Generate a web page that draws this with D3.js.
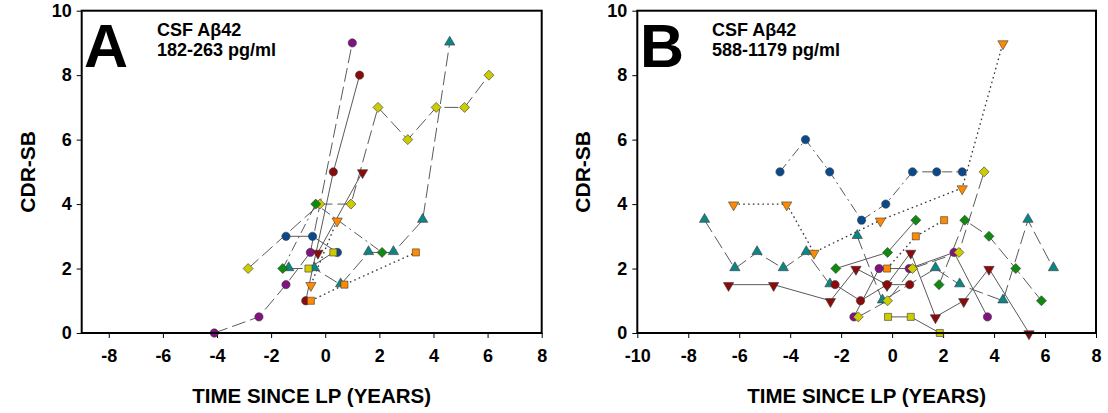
<!DOCTYPE html>
<html>
<head>
<meta charset="utf-8">
<script src="https://cdn.jsdelivr.net/npm/d3@7"></script>
<style>
  body { margin: 0; background: #fff; }
  text { font-family: Arial, "Liberation Sans", sans-serif; font-weight: bold; }
</style>
</head>
<body>
<div id="chart"></div>
<script>
// values: [years since LP, CDR-SB]
const xTicksA = [-8, -6, -4, -2, 0, 2, 4, 6, 8];
const xTicksB = [-10, -8, -6, -4, -2, 0, 2, 4, 6, 8];
const yTicks = [0, 2, 4, 6, 8, 10];

// panel A subjects
const aPurpleCircle = [[-4.1, 0], [-2.45, 0.5], [-1.45, 1.5], [-0.55, 2.5], [1.0, 9]];
const aRedCircle = [[-0.72, 1], [0.3, 5], [1.27, 8]];
const aYellowDiamond = [[-2.85, 2], [-0.2, 4], [0.95, 4], [1.95, 7], [3.05, 6], [4.1, 7], [5.15, 7], [6.05, 8]];
const aTealTriangle = [[-1.35, 2], [-0.4, 2], [0.57, 1.5], [1.6, 2.5], [2.52, 2.5], [3.6, 3.5], [4.6, 9]];
const aBlueCircle = [[-1.45, 3], [-0.47, 3], [0.45, 2.5]];
const aOrangeTriangle = [[-0.53, 1.5], [0.44, 3.5]];
const aOrangeSquare = [[-0.53, 1], [0.71, 1.5], [3.35, 2.5]];
const aRedTriangle = [[-0.27, 2.5], [1.38, 5]];
const aYellowSquare = [[-0.62, 2], [0.3, 2.5]];
const aGreenDiamond = [[-1.57, 2], [-0.35, 4], [2.1, 2.5]];

// panel B subjects
const bBlueCircle = [[-4.4, 5], [-3.4, 6], [-2.45, 5], [-1.2, 3.5], [-0.25, 4], [0.8, 5], [1.75, 5], [2.75, 5]];
const bOrangeTriangle = [[-6.22, 4], [-4.14, 4], [-3.07, 2.5], [-0.46, 3.5], [2.75, 4.5], [4.35, 9]];
const bOrangeSquare = [[-0.2, 2], [0.93, 3], [2.04, 3.5]];
const bTealTriangle1 = [[-7.36, 3.5], [-6.17, 2], [-5.3, 2.5], [-4.27, 2], [-3.37, 2.5], [-2.44, 1.5]];
const bTealTriangle2 = [[-1.37, 3], [-0.38, 1], [1.7, 2], [2.65, 1.5], [4.35, 1], [5.33, 3.5], [6.33, 2]];
const bRedTriangle = [[-6.42, 1.5], [-4.65, 1.5], [-2.42, 1], [-1.42, 2], [-0.2, 1.5], [0.73, 2.5], [1.7, 0.5], [2.81, 1], [3.8, 2], [5.37, 0]];
const bRedCircle = [[-2.24, 1.5], [-1.24, 1], [-0.2, 1.5], [0.69, 1.5]];
const bPurpleCircle = [[-1.5, 0.5], [-0.51, 2], [0.67, 2], [2.43, 2.5], [3.74, 0.5]];
const bYellowDiamond = [[-1.33, 0.5], [-0.18, 1], [0.8, 2], [2.62, 2.5], [3.61, 5]];
const bYellowSquare = [[-0.16, 0.5], [0.73, 0.5], [1.87, 0]];
const bGreenDiamond1 = [[-2.21, 2], [-0.18, 2.5], [0.93, 3.5]];
const bGreenDiamond2 = [[1.84, 1.5], [2.85, 3.5], [3.8, 3], [4.85, 2], [5.86, 1]];

const colors = {
  purple: '#82127f',
  red: '#8b0a0a',
  yellow: '#cccc00',
  teal: '#0b8585',
  blue: '#0a4a8c',
  orange: '#ff8a00',
  green: '#0f8a0f',
};

const dashes = {
  solid: null,
  long: '14,5',
  dashDot: '10,4,2,4',
  dot: '1.6,3.2',
};

// series styling kept apart from the values
const seriesA = [
  { data: aPurpleCircle, color: 'purple', shape: 'circle', dash: 'long' },
  { data: aRedCircle, color: 'red', shape: 'circle', dash: 'solid' },
  { data: aYellowDiamond, color: 'yellow', shape: 'diamond', dash: 'long' },
  { data: aTealTriangle, color: 'teal', shape: 'up', dash: 'long' },
  { data: aBlueCircle, color: 'blue', shape: 'circle', dash: 'solid' },
  { data: aOrangeTriangle, color: 'orange', shape: 'down', dash: 'dot' },
  { data: aOrangeSquare, color: 'orange', shape: 'square', dash: 'dot' },
  { data: aRedTriangle, color: 'red', shape: 'down', dash: 'solid' },
  { data: aYellowSquare, color: 'yellow', shape: 'square', dash: 'solid' },
  { data: aGreenDiamond, color: 'green', shape: 'diamond', dash: 'dashDot' },
];

const seriesB = [
  { data: bBlueCircle, color: 'blue', shape: 'circle', dash: 'dashDot' },
  { data: bOrangeTriangle, color: 'orange', shape: 'down', dash: 'dot' },
  { data: bOrangeSquare, color: 'orange', shape: 'square', dash: 'dot' },
  { data: bTealTriangle1, color: 'teal', shape: 'up', dash: 'long' },
  { data: bTealTriangle2, color: 'teal', shape: 'up', dash: 'long' },
  { data: bRedTriangle, color: 'red', shape: 'down', dash: 'solid' },
  { data: bRedCircle, color: 'red', shape: 'circle', dash: 'solid' },
  { data: bPurpleCircle, color: 'purple', shape: 'circle', dash: 'solid' },
  { data: bYellowDiamond, color: 'yellow', shape: 'diamond', dash: 'long' },
  { data: bYellowSquare, color: 'yellow', shape: 'square', dash: 'solid' },
  { data: bGreenDiamond1, color: 'green', shape: 'diamond', dash: 'solid' },
  { data: bGreenDiamond2, color: 'green', shape: 'diamond', dash: 'long' },
];

const width = 1108;
const height = 413;

const svg = d3.select('#chart')
  .append('svg')
  .attr('width', width)
  .attr('height', height);

svg.append('rect')
  .attr('width', width)
  .attr('height', height)
  .attr('fill', '#fff');

const yScale = d3.scaleLinear().domain([0, 10]).range([333, 10.7]);

// diamond is a square turned 45 degrees, like the original markers
const symbols = {
  circle: d3.symbol().type(d3.symbolCircle).size(54),
  diamond: d3.symbol().type(d3.symbolSquare).size(50),
  square: d3.symbol().type(d3.symbolSquare).size(50),
  up: d3.symbol().type(d3.symbolTriangle).size(46),
  down: d3.symbol().type(d3.symbolTriangle).size(46),
};

const rotation = { diamond: 45, down: 180 };

const drawPanel = (cfg) => {
  const { xScale, xTicks, series, letter, title, subtitle, letterX, titleX, yLabelX } = cfg;
  const [x0, x1] = xScale.range();
  const g = svg.append('g');

  // x axis ticks and labels
  const xAxis = d3.axisBottom(xScale)
    .tickValues(xTicks)
    .tickSize(5)
    .tickPadding(11)
    .tickFormat((d) => String(d));

  g.append('g')
    .attr('transform', `translate(0, ${yScale(0)})`)
    .call(xAxis)
    .call((s) => s.select('.domain').remove())
    .call((s) => s.selectAll('text').attr('font-size', 18).attr('fill', '#000'));

  const yAxis = d3.axisLeft(yScale)
    .tickValues(yTicks)
    .tickSize(5)
    .tickPadding(5)
    .tickFormat((d) => String(d));

  g.append('g')
    .attr('transform', `translate(${x0}, 0)`)
    .call(yAxis)
    .call((s) => s.select('.domain').remove())
    .call((s) => s.selectAll('text').attr('font-size', 18).attr('fill', '#000'));

  // subject trajectories
  const line = d3.line()
    .x((d) => xScale(d[0]))
    .y((d) => yScale(d[1]));

  g.append('g')
    .selectAll('path')
    .data(series)
    .join('path')
    .attr('d', (d) => line(d.data))
    .attr('fill', 'none')
    .attr('stroke', (d) => d.dash === 'dot' ? '#333' : '#5a5a5a')
    .attr('stroke-width', (d) => d.dash === 'dot' ? 1.3 : 1)
    .attr('stroke-dasharray', (d) => dashes[d.dash]);

  series.forEach((s) => {
    g.append('g')
      .selectAll('path')
      .data(s.data)
      .join('path')
      .attr('d', symbols[s.shape]())
      .attr('transform', (d) => {
        const rot = rotation[s.shape] ? ` rotate(${rotation[s.shape]})` : '';
        const dy = s.shape === 'up' ? -0.8 : s.shape === 'down' ? 0.8 : 0;
        return `translate(${xScale(d[0])}, ${yScale(d[1]) + dy})${rot}`;
      })
      .attr('fill', colors[s.color])
      .attr('stroke', '#3a3a3a')
      .attr('stroke-width', 0.6);
  });

  // plot frame
  g.append('rect')
    .attr('x', x0)
    .attr('y', yScale(10))
    .attr('width', x1 - x0)
    .attr('height', yScale(0) - yScale(10))
    .attr('fill', 'none')
    .attr('stroke', '#000')
    .attr('stroke-width', 2);

  g.append('text')
    .attr('x', letterX)
    .attr('y', 67)
    .attr('font-size', 61)
    .text(letter);

  g.append('text')
    .attr('x', titleX)
    .attr('y', 36)
    .attr('font-size', 18)
    .text(title);

  g.append('text')
    .attr('x', titleX)
    .attr('y', 56)
    .attr('font-size', 18)
    .text(subtitle);

  g.append('text')
    .attr('x', (x0 + x1) / 2)
    .attr('y', 403)
    .attr('text-anchor', 'middle')
    .attr('font-size', 20.5)
    .text('TIME SINCE LP (YEARS)');

  g.append('text')
    .attr('transform', `translate(${yLabelX}, ${(yScale(0) + yScale(10)) / 2}) rotate(-90)`)
    .attr('text-anchor', 'middle')
    .attr('font-size', 21)
    .text('CDR-SB');
};

drawPanel({
  xScale: d3.scaleLinear().domain([-9, 8]).range([81.7, 541.7]),
  xTicks: xTicksA,
  series: seriesA,
  letter: 'A',
  title: 'CSF A\u03b242',
  subtitle: '182-263 pg/ml',
  letterX: 84,
  titleX: 157,
  yLabelX: 35,
});

drawPanel({
  xScale: d3.scaleLinear().domain([-10, 8]).range([637.3, 1096]),
  xTicks: xTicksB,
  series: seriesB,
  letter: 'B',
  title: 'CSF A\u03b242',
  subtitle: '588-1179 pg/ml',
  letterX: 640,
  titleX: 712,
  yLabelX: 590,
});
</script>
</body>
</html>
